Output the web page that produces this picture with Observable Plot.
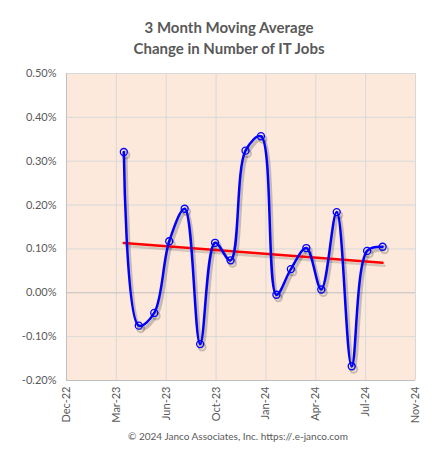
<!DOCTYPE html>
<html>
<head>
<meta charset="utf-8">
<script src="https://cdn.jsdelivr.net/npm/d3@7"></script>
<script src="https://cdn.jsdelivr.net/npm/@observablehq/plot@0.6"></script>
<style>
  html, body { margin: 0; padding: 0; background: #fff; }
  #wrap { position: relative; width: 434px; height: 451px; overflow: hidden; font-family: Lato, "Open Sans", sans-serif; }
  #title { position: absolute; left: 79px; width: 300px; top: 17px; text-align: center; font-weight: bold; font-size: 15px; line-height: 21px; color: #595959; }
  #caption { position: absolute; left: 88px; width: 300px; top: 430px; text-align: center; font-size: 10px; color: #595959; white-space: nowrap; }
  #chart { position: absolute; left: 0; top: 0; }
</style>
</head>
<body>
<div id="wrap">
  <div id="chart"></div>
  <div id="title">3 Month Moving Average<br>Change in Number of IT Jobs</div>
  <div id="caption">© 2024 Janco Associates, Inc. https://.e-janco.com</div>
</div>
<script>
// month-end dates of each observation
const dates = ["2023-03-31","2023-04-30","2023-05-31","2023-06-30","2023-07-31","2023-08-31",
  "2023-09-30","2023-10-31","2023-11-30","2023-12-31","2024-01-31","2024-02-29",
  "2024-03-31","2024-04-30","2024-05-31","2024-06-30","2024-07-31","2024-08-31"];
// 3-month moving average change, in percent
const values = [0.321, -0.075, -0.046, 0.1175, 0.1916, -0.117, 0.114, 0.074, 0.324, 0.357,
  -0.0045, 0.054, 0.102, 0.0075, 0.184, -0.1675, 0.0955, 0.105];
// x-axis ticks (Excel date axis, 100-day major unit)
const xTickDates = ["2022-12-06","2023-03-16","2023-06-24","2023-10-02","2024-01-10","2024-04-19","2024-07-28","2024-11-05"];
const xTickLabels = ["Dec-22","Mar-23","Jun-23","Oct-23","Jan-24","Apr-24","Jul-24","Nov-24"];
const yTicks = [-0.2, -0.1, 0, 0.1, 0.2, 0.3, 0.4, 0.5];

const data = dates.map((d, i) => ({date: new Date(d + "T00:00:00Z"), value: values[i]}));
const xt = xTickDates.map(d => new Date(d + "T00:00:00Z"));
const labelOf = new Map(xt.map((d, i) => [+d, xTickLabels[i]]));

const curve = "catmull-rom";
const chart = Plot.plot({
  width: 434,
  height: 451,
  marginTop: 73,
  marginBottom: 71,
  marginLeft: 66,
  marginRight: 19,
  style: {fontFamily: "Lato, 'Open Sans', sans-serif", fontSize: "11px", color: "#595959", background: "transparent"},
  x: {type: "utc", domain: [xt[0], xt[xt.length - 1]], ticks: xt, tickFormat: d => labelOf.get(+d), tickRotate: -90, tickSize: 0, tickPadding: 6, label: null},
  y: {domain: [-0.2, 0.5], ticks: yTicks, tickFormat: d => d.toFixed(2) + "%", tickSize: 0, tickPadding: 10, label: null},
  marks: [
    Plot.frame({fill: "#FCE9DB", stroke: null}),
    Plot.gridY(yTicks.filter(d => d !== 0), {stroke: "#D9D9D9", strokeOpacity: 1, strokeWidth: 1}),
    Plot.gridX(xt, {stroke: "#D9D9D9", strokeOpacity: 1, strokeWidth: 1}),
    Plot.ruleY([0], {stroke: "#BFBFBF", strokeWidth: 1}),
    Plot.ruleX([xt[0]], {stroke: "#BFBFBF", strokeWidth: 1}),
    Plot.ruleY([-0.2], {stroke: "#BFBFBF", strokeWidth: 1}),
    // shadows
    Plot.line(data, {x: "date", y: "value", curve, stroke: "#000", strokeOpacity: 0.2, strokeWidth: 3.5, dx: 2, dy: 3}),
    Plot.dot(data, {x: "date", y: "value", r: 3.5, stroke: "#000", strokeOpacity: 0.2, strokeWidth: 2, dx: 2, dy: 3}),
    Plot.linearRegressionY(data, {x: "date", y: "value", ci: 0, stroke: "#000", strokeOpacity: 0.15, strokeWidth: 2.5, dx: 2, dy: 3}),
    // main
    Plot.linearRegressionY(data, {x: "date", y: "value", ci: 0, stroke: "#FF0000", strokeWidth: 2.5}),
    Plot.line(data, {x: "date", y: "value", curve, stroke: "#0000FF", strokeWidth: 2.5}),
    Plot.dot(data, {x: "date", y: "value", r: 3.5, stroke: "#0000FF", strokeWidth: 1.3, fill: "none"}),
  ]
});
document.getElementById("chart").appendChild(chart);
</script>
</body>
</html>
